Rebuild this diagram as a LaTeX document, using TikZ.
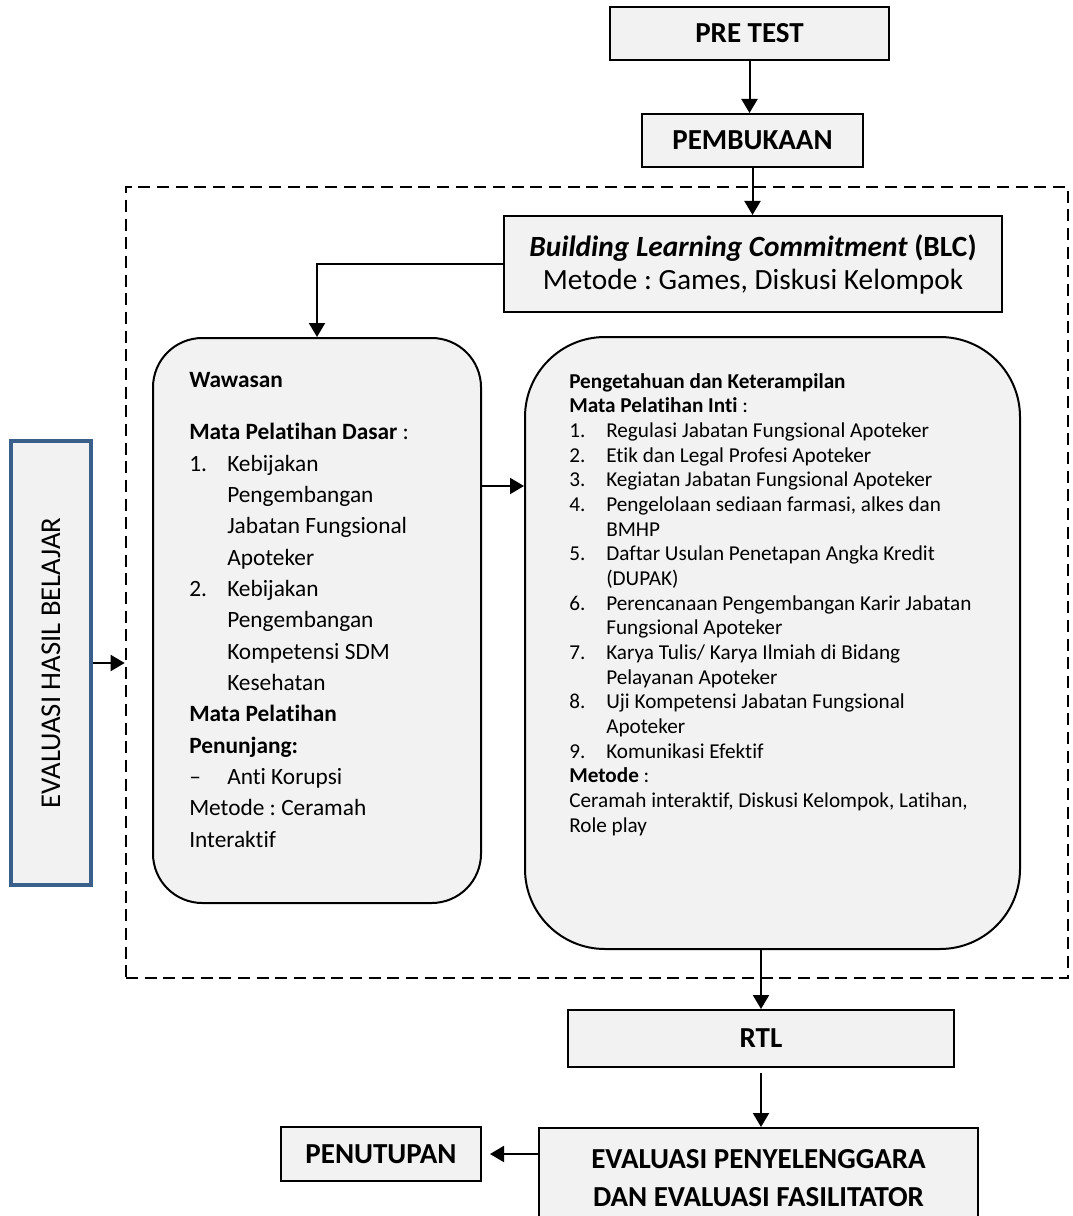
\documentclass[tikz,border=0pt]{standalone}
\usepackage{fontspec}
\setmainfont{Carlito}[Ligatures={NoCommon}]
\usetikzlibrary{arrows.meta}
\definecolor{boxgray}{HTML}{F2F2F2}
\definecolor{evalblue}{HTML}{3A5F8B}
\newcommand{\lnum}[1]{\makebox[28.5pt][l]{#1}}
\newcommand{\rnum}[1]{\makebox[27.75pt][l]{#1}}
\frenchspacing

\begin{document}
\begin{tikzpicture}[x=0.75pt,y=-0.75pt,
  rbox/.style={draw,line width=1.5pt,fill=boxgray,inner sep=0pt},
  tbox/.style={rbox,font=\bfseries\fontsize{21.75}{26}\selectfont},
  arr/.style={line width=1.5pt,-{Triangle[length=10.5pt,width=12pt]}}]
  \useasboundingbox (0,0) rectangle (1073,1216);
  \clip (0,0) rectangle (1073,1216);
  \node (frame) [draw,line width=2pt,dash pattern=on 9pt off 5pt,minimum width=706.5pt,minimum height=593.25pt] at (597,582.5) {};
  \node (pretest) [tbox,minimum width=209.25pt,minimum height=39.75pt] at (749.5,33.5) {PRE TEST};
  \node (buka) [tbox,minimum width=165.75pt,minimum height=39.75pt] at (752.5,140.5) {PEMBUKAAN};
  \node (blc) [rbox,minimum width=373.5pt,minimum height=72pt,align=center,font=\fontsize{22}{24.75}\selectfont] at (753,264)
    {\textbf{\textit{Building Learning Commitment}} \textbf{(BLC)}\\Metode : Games, Diskusi Kelompok};
  \node (wawasan) [rbox,rounded corners=37pt,minimum width=246pt,minimum height=423.75pt] at (317,620.5) {};
  \node (inti) [rbox,rounded corners=60pt,minimum width=371.25pt,minimum height=459pt] at (772.5,643) {};
  \node (evalhb) [draw=evalblue,line width=3pt,fill=boxgray,minimum width=60pt,minimum height=333pt,inner sep=0pt] at (51,663) {};
  \node (evalhbtext) [rotate=90,font=\fontsize{21.5}{26}\selectfont] at (evalhb.center) {EVALUASI HASIL BELAJAR};
  \node (rtl) [tbox,minimum width=289.5pt,minimum height=42.75pt] at (761,1038.5) {RTL};
  \node (evalpf) [tbox,minimum width=329.25pt,minimum height=75pt,align=center,font=\bfseries\fontsize{21.75}{28.5}\selectfont] at (758.5,1178)
    {EVALUASI PENYELENGGARA\\DAN EVALUASI FASILITATOR};
  \node (tutup) [tbox,minimum width=150pt,minimum height=40.5pt] at (381,1154) {PENUTUPAN};

  \node (wtext) [anchor=base west,inner sep=0pt,font=\fontsize{17.5}{23.5}\selectfont] at (189,387) {%
    \begin{tabular}[t]{@{}l@{}}
      \textbf{Wawasan}\\[16pt]
      \textbf{Mata Pelatihan Dasar} :\\
      \lnum{1.}Kebijakan\\
      \lnum{}Pengembangan\\
      \lnum{}Jabatan Fungsional\\
      \lnum{}Apoteker\\
      \lnum{2.}Kebijakan\\
      \lnum{}Pengembangan\\
      \lnum{}Kompetensi SDM\\
      \lnum{}Kesehatan\\
      \textbf{Mata Pelatihan}\\
      \textbf{Penunjang:}\\
      \lnum{–}Anti Korupsi\\
      Metode : Ceramah\\
      Interaktif
    \end{tabular}};
  \node (itext) [anchor=base west,inner sep=0pt,font=\fontsize{15.9}{18.5}\selectfont] at (569,388) {%
    \begin{tabular}[t]{@{}l@{}}
      \textbf{Pengetahuan dan Keterampilan}\\
      \textbf{Mata Pelatihan Inti} :\\
      \rnum{1.}Regulasi Jabatan Fungsional Apoteker\\
      \rnum{2.}Etik dan Legal Profesi Apoteker\\
      \rnum{3.}Kegiatan Jabatan Fungsional Apoteker\\
      \rnum{4.}Pengelolaan sediaan farmasi, alkes dan\\
      \rnum{}BMHP\\
      \rnum{5.}Daftar Usulan Penetapan Angka Kredit\\
      \rnum{}(DUPAK)\\
      \rnum{6.}Perencanaan Pengembangan Karir Jabatan\\
      \rnum{}Fungsional Apoteker\\
      \rnum{7.}Karya Tulis/ Karya Ilmiah di Bidang\\
      \rnum{}Pelayanan Apoteker\\
      \rnum{8.}Uji Kompetensi Jabatan Fungsional\\
      \rnum{}Apoteker\\
      \rnum{9.}Komunikasi Efektif\\
      \textbf{Metode} :\\
      Ceramah interaktif, Diskusi Kelompok, Latihan,\\
      Role play
    \end{tabular}};

  \coordinate (wline) at (0,486);
  \draw[arr] (pretest.south) -- (pretest.south |- buka.north);
  \draw[arr] (buka.south) -- (buka.south |- blc.north);
  \draw[arr] (blc.west) -| (wawasan.north);
  \draw[arr] (wawasan.east |- wline) -- (inti.west |- wline);
  \draw[arr] (evalhb.east) -- (evalhb.east -| frame.west);
  \draw[arr] (inti.south -| rtl.north) -- (rtl.north);
  \draw[arr,shorten <=4pt] (rtl.south) -- (rtl.south |- evalpf.north);
  \draw[arr,shorten >=6pt] (evalpf.west |- tutup.east) -- (tutup.east);
\end{tikzpicture}
\end{document}
